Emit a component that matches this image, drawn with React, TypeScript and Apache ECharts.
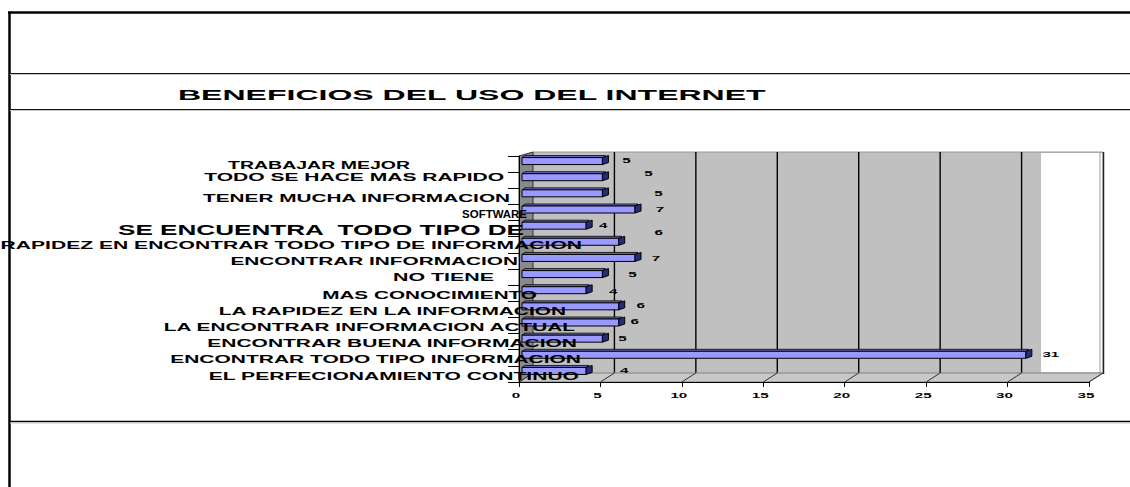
import React, { useEffect, useRef } from "react";
import * as echarts from "echarts";

// ---------- data ----------
const title = "BENEFICIOS DEL USO DEL INTERNET";
const categories = [
  "TRABAJAR MEJOR",
  "TODO SE HACE MAS RAPIDO",
  "TENER MUCHA INFORMACION",
  "SOFTWARE",
  "SE ENCUENTRA  TODO TIPO DE",
  "RAPIDEZ EN ENCONTRAR TODO TIPO DE INFORMACION",
  "ENCONTRAR INFORMACION",
  "NO TIENE",
  "MAS CONOCIMIENTO",
  "LA RAPIDEZ EN LA INFORMACION",
  "LA ENCONTRAR INFORMACION ACTUAL",
  "ENCONTRAR BUENA INFORMACION",
  "ENCONTRAR TODO TIPO INFORMACION",
  "EL PERFECIONAMIENTO CONTINUO",
];
const values = [5, 5, 5, 7, 4, 6, 7, 5, 4, 6, 6, 5, 31, 4];
const xTicks = [0, 5, 10, 15, 20, 25, 30, 35];

// ---------- layout (pixels) ----------
const labelLeft = [228, 204, 202, 462, 117, 0, 230, 393, 322, 217, 162, 206, 170, 208];
const labelRight = [410, 504, 510, 527, 524, 582, 518, 494, 537, 566, 575, 577, 581, 579];
const labelDy = [1, -3, 2, 1, 1, 0.5, 0.5, 0, 2, 2, 1.5, 1.5, 1.5, 2];
const labelSize = [11.5, 11.5, 11.5, 11.5, 14.5, 11.5, 11.5, 11.5, 11.5, 11.5, 11.5, 11.5, 11.5, 11.5];
const valueDx = [18, 40, 50, 19, 11, 34, 15, 24, 21, 16, 10, 14, 19, 32];
const valueDy = [-1, -4, 0, 0, 0, -9, 0, 0, 1, -1, -1, 0, 0, -1];

const FONT_FAMILY = '"Liberation Sans", Arial, sans-serif';
const GRID = { left: 519, top: 156, width: 570, height: 226 };
const DEPTH_X = 14;
const DEPTH_TOP = 4;
const DEPTH_BOTTOM = 9;
const SMALL_SCALE = 1.9;

function measure(text: string, font: string): number {
  const c = document.createElement("canvas");
  const ctx = c.getContext("2d")!;
  ctx.font = font;
  return ctx.measureText(text).width;
}

export default function App() {
  const ref = useRef<HTMLDivElement>(null);

  useEffect(() => {
    if (!ref.current) return;
    const chart = echarts.init(ref.current, undefined, { renderer: "svg" });

    const renderItem = (params: any, api: any) => {
      const val = api.value(0);
      const idx = params.dataIndex;
      const cat = api.value(1);
      const p0 = api.coord([0, cat]);
      const p1 = api.coord([val, cat]);
      const h = 7;
      const x0 = p0[0] + 3;
      const x1 = p1[0] + 2;
      const cy = p0[1] - 3;
      const yT = cy - h / 2;
      const yB = cy + h / 2;
      const capW = 6;
      const capH = 2;
      const font = `bold 8px ${FONT_FAMILY}`;
      return {
        type: "group",
        children: [
          {
            type: "polygon",
            shape: { points: [[x0, yT], [x0 + 3, yT - 2], [x1 + 3, yT - 2], [x1, yT]] },
            style: { fill: "#6E6EC8", stroke: "#000", lineWidth: 0.8 },
          },
          {
            type: "rect",
            shape: { x: x0, y: yT, width: x1 - x0, height: h },
            style: { fill: "#9999FF", stroke: "#000", lineWidth: 1 },
          },
          {
            type: "polygon",
            shape: { points: [[x1, yT], [x1 + capW, yT - capH], [x1 + capW, yB - capH], [x1, yB]] },
            style: { fill: "#2A2A7A", stroke: "#000", lineWidth: 1 },
          },
          {
            type: "text",
            x: x1 + capW + valueDx[idx],
            y: cy + valueDy[idx],
            scaleX: SMALL_SCALE,
            style: {
              text: String(val),
              font,
              fill: "#000",
              align: "center",
              verticalAlign: "middle",
            },
          },
        ],
      };
    };

    chart.setOption({
      animation: false,
      backgroundColor: "#fff",
      grid: { ...GRID, containLabel: false },
      xAxis: {
        type: "value",
        min: 0,
        max: 35,
        interval: 5,
        axisLine: { show: true, lineStyle: { color: "#000", width: 1 } },
        axisTick: { show: true, length: 5, lineStyle: { color: "#000" } },
        axisLabel: { show: false },
        splitLine: { show: false },
        z: 6,
      },
      yAxis: {
        type: "category",
        data: categories,
        inverse: true,
        axisLine: { show: true, lineStyle: { color: "#000", width: 1 } },
        axisTick: { show: true, length: 11, lineStyle: { color: "#000" } },
        axisLabel: { show: false },
        splitLine: { show: false },
        z: 6,
      },
      series: [
        {
          type: "custom",
          renderItem,
          encode: { x: 0, y: 1 },
          data: values.map((v, i) => [v, i]),
          clip: false,
          z: 5,
        },
      ],
    });

    const px = (v: number) => chart.convertToPixel({ xAxisIndex: 0 }, v) as number;
    const py = (i: number) => chart.convertToPixel({ yAxisIndex: 0 }, i) as number;

    const fx0 = px(0);
    const fx1 = px(35);
    const fTop = GRID.top;
    const fBot = GRID.top + GRID.height;
    const bTop = fTop - DEPTH_TOP;
    const bBot = fBot - DEPTH_BOTTOM;
    const grayEnd = 1041;

    const g: any[] = [];
    // frame lines
    g.push({ type: "line", z: 1, shape: { x1: 8, y1: 12.5, x2: 1130, y2: 12.5 }, style: { stroke: "#000", lineWidth: 2.5 } });
    g.push({ type: "line", z: 1, shape: { x1: 9.5, y1: 12, x2: 9.5, y2: 487 }, style: { stroke: "#000", lineWidth: 2.5 } });
    [73.5, 109.5].forEach((y) => {
      g.push({ type: "line", z: 1, shape: { x1: 10, y1: y, x2: 1130, y2: y }, style: { stroke: "#111", lineWidth: 1.2 } });
      g.push({ type: "line", z: 1, shape: { x1: 10, y1: y + 1, x2: 1130, y2: y + 1 }, style: { stroke: "#c8c8c8", lineWidth: 1 } });
    });
    g.push({ type: "line", z: 1, shape: { x1: 10, y1: 421.5, x2: 1130, y2: 421.5 }, style: { stroke: "#000", lineWidth: 1.6 } });
    g.push({ type: "line", z: 1, shape: { x1: 10, y1: 423, x2: 1130, y2: 423 }, style: { stroke: "#c8c8c8", lineWidth: 1 } });

    // title
    const titleFont = `bold 15px ${FONT_FAMILY}`;
    const titleW = measure(title, titleFont);
    g.push({
      type: "text",
      z: 10,
      x: 178,
      y: 95,
      scaleX: (767 - 178) / titleW,
      style: { text: title, font: titleFont, fill: "#000", align: "left", verticalAlign: "middle" },
    });

    // back wall
    g.push({ type: "rect", z: 1, shape: { x: fx0 + DEPTH_X, y: bTop, width: fx1 - fx0, height: bBot - bTop }, style: { fill: "#fff", stroke: "#999", lineWidth: 1 } });
    g.push({ type: "rect", z: 1, shape: { x: fx0 + DEPTH_X, y: bTop, width: grayEnd - (fx0 + DEPTH_X), height: bBot - bTop }, style: { fill: "#C0C0C0" } });
    g.push({ type: "line", z: 1, shape: { x1: fx0 + DEPTH_X, y1: bTop + 0.5, x2: fx1 + DEPTH_X, y2: bTop + 0.5 }, style: { stroke: "#aaa", lineWidth: 1 } });
    g.push({ type: "line", z: 1, shape: { x1: fx1 + DEPTH_X - 3, y1: bTop, x2: fx1 + DEPTH_X - 3, y2: bBot + 1 }, style: { stroke: "#999", lineWidth: 1 } });
    g.push({ type: "line", z: 1, shape: { x1: fx1 + DEPTH_X + 0.5, y1: bTop, x2: fx1 + DEPTH_X + 0.5, y2: bBot + 1 }, style: { stroke: "#222", lineWidth: 1.5 } });
    xTicks.slice(1, -1).forEach((v) => {
      const x = px(v) + DEPTH_X;
      g.push({ type: "line", z: 2, shape: { x1: x, y1: bTop, x2: x, y2: bBot }, style: { stroke: "#000", lineWidth: 1.4 } });
    });
    // floor
    g.push({
      type: "polygon",
      z: 2,
      shape: { points: [[fx0, fBot], [fx0 + DEPTH_X, bBot], [fx1 + DEPTH_X, bBot], [fx1, fBot]] },
      style: { fill: "#C8C8C8", stroke: "#808080", lineWidth: 1 },
    });
    xTicks.forEach((v) => {
      const x = px(v);
      g.push({ type: "line", z: 3, shape: { x1: x, y1: fBot, x2: x + DEPTH_X, y2: bBot }, style: { stroke: "#333", lineWidth: 1 } });
    });
    // left wall
    g.push({
      type: "polygon",
      z: 3,
      shape: { points: [[fx0, fTop], [fx0 + DEPTH_X, bTop], [fx0 + DEPTH_X, bBot], [fx0, fBot]] },
      style: { fill: "#8A8A8A", stroke: "#333", lineWidth: 1 },
    });

    // x tick labels
    const smallFont = `bold 8px ${FONT_FAMILY}`;
    xTicks.forEach((v) => {
      g.push({
        type: "text",
        z: 10,
        x: px(v) - 3,
        y: 395,
        scaleX: SMALL_SCALE,
        style: { text: String(v), font: smallFont, fill: "#000", align: "center", verticalAlign: "middle" },
      });
    });

    // category labels
    categories.forEach((c, i) => {
      const font = `bold ${labelSize[i]}px ${FONT_FAMILY}`;
      const w = measure(c, font);
      g.push({
        type: "text",
        z: 10,
        x: labelRight[i],
        y: py(i) + labelDy[i],
        scaleX: (labelRight[i] - labelLeft[i]) / w,
        style: { text: c, font, fill: "#000", align: "right", verticalAlign: "middle" },
      });
    });

    chart.setOption({ graphic: { elements: g } });

    return () => chart.dispose();
  }, []);

  return (
    <div
      ref={ref}
      style={{ position: "absolute", left: 0, top: 0, width: 1130, height: 487 }}
    />
  );
}
